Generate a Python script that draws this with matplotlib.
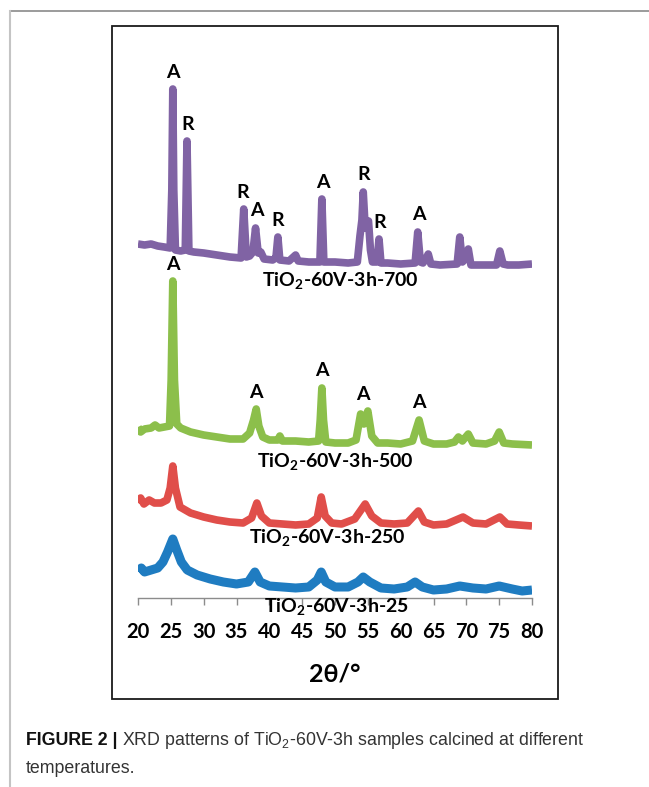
import numpy as np
import matplotlib
matplotlib.use('Agg')
import matplotlib.pyplot as plt
from matplotlib.lines import Line2D
from matplotlib.patches import Rectangle

plt.rcParams['font.family'] = ['Lato', 'DejaVu Sans']
plt.rcParams['mathtext.fontset'] = 'custom'
plt.rcParams['mathtext.rm'] = 'Lato:bold'
plt.rcParams['mathtext.bf'] = 'Lato:bold'
plt.rcParams['mathtext.sf'] = 'Liberation Sans'

W, H = 649, 787

# XRD patterns, 2-theta in degrees, intensity in a.u. (already stacked)
tt_700 = [20.0, 21.0, 22.0, 23.0, 24.0, 24.9, 25.15, 25.3, 25.45, 25.7, 26.5, 27.2, 27.46, 27.75,
          28.5, 30.0, 32.0, 34.0, 35.7, 36.1, 36.5, 37.0, 37.5, 37.9, 38.3, 38.7, 39.2, 40.5,
          41.0, 41.3, 41.6, 43.0, 44.0, 44.4, 46.0, 47.7, 48.0, 48.3, 50.0, 52.0, 53.4, 53.8,
          54.1, 54.3, 54.6, 55.1, 55.4, 55.7, 56.4, 56.7, 57.0, 58.0, 60.0, 62.2, 62.6, 63.0,
          63.4, 63.9, 64.2, 64.6, 66.0, 68.6, 69.0, 69.4, 70.0, 70.3, 70.7, 72.0, 74.6, 75.1,
          75.6, 76.3, 78.0, 80.0]
i_700 = [354, 353, 354, 352, 351, 350, 408, 509, 408, 348, 347, 348, 457, 347,
         346, 345, 343, 341, 340, 389, 341, 342, 346, 370, 345, 346, 339, 338,
         340, 361, 338, 337, 343, 337, 336, 336, 399, 336, 336, 335, 336, 362,
         378, 406, 370, 377, 348, 336, 336, 359, 335, 335, 334, 335, 366, 336,
         335, 340, 344, 334, 333, 334, 361, 336, 340, 349, 333, 333, 333, 347,
         334, 333, 333, 334]

tt_500 = [20.0, 20.4, 21.0, 22.0, 22.6, 23.2, 24.0, 24.8, 25.05, 25.3, 25.55, 25.9, 26.5, 28.0,
          30.0, 32.0, 34.0, 36.0, 37.0, 37.6, 38.0, 38.4, 39.0, 40.0, 41.3, 41.6, 42.0, 44.0,
          46.0, 47.5, 47.75, 48.0, 48.25, 48.6, 50.0, 52.0, 53.2, 53.9, 54.4, 55.0, 55.6, 56.5,
          58.0, 60.0, 61.8, 62.8, 63.6, 65.0, 67.0, 68.2, 68.8, 69.4, 70.3, 71.0, 73.0, 74.3,
          75.0, 75.7, 77.0, 80.0]
i_500 = [171, 166, 169, 170, 173, 170, 171, 172, 218, 317, 218, 174, 170, 166,
         163, 161, 159, 159, 165, 178, 189, 172, 161, 158, 158, 162, 157, 157,
         156, 157, 178, 210, 178, 156, 155, 155, 158, 184, 174, 187, 162, 155,
         155, 154, 157, 178, 157, 154, 154, 156, 161, 157, 164, 155, 154, 157,
         166, 155, 154, 153]

tt_250 = [20.0, 20.4, 20.9, 21.7, 22.5, 23.5, 24.4, 24.9, 25.3, 25.7, 26.4, 28.0, 30.0, 32.0,
          34.0, 36.0, 37.3, 38.1, 38.8, 40.0, 42.0, 44.0, 46.0, 47.3, 47.9, 48.5, 49.5, 51.0,
          53.0, 54.6, 55.6, 57.0, 59.0, 61.0, 62.7, 63.6, 65.0, 67.0, 69.5, 71.0, 73.0, 75.1,
          76.2, 78.0, 80.0]
i_250 = [95, 100, 94, 98, 95, 95, 98, 110, 132, 110, 91, 85, 81, 78,
         76, 75, 80, 95, 82, 75, 74, 73, 74, 80, 101, 82, 75, 74,
         79, 94, 82, 75, 74, 75, 87, 76, 73, 74, 81, 75, 74, 81,
         74, 73, 72]

tt_25 = [20.0, 20.5, 21.0, 22.0, 23.0, 23.8, 24.5, 25.3, 25.9, 26.6, 27.5, 29.0, 31.0, 33.0,
         35.0, 36.8, 37.8, 38.6, 40.0, 42.0, 44.0, 46.0, 47.3, 47.9, 48.6, 50.0, 52.0, 53.5,
         54.3, 55.3, 57.0, 59.0, 61.0, 62.2, 63.3, 65.0, 67.0, 69.0, 71.0, 73.0, 75.0, 77.0,
         78.5, 80.0]
i_25 = [27, 30, 26, 28, 30, 36, 46, 59, 48, 36, 28, 23, 19, 16,
        14, 16, 26, 16, 12, 11, 10, 11, 18, 26, 16, 11, 11, 16,
        21, 16, 10, 9, 11, 16, 11, 8, 9, 12, 10, 9, 12, 9,
        7, 8]

# phase assignments: A = anatase, R = rutile
peaks_700 = [(25.3, 'A'), (27.6, 'R'), (36.0, 'R'), (38.1, 'A'), (41.3, 'R'),
             (48.1, 'A'), (54.3, 'R'), (56.85, 'R'), (62.75, 'A')]
peaks_500 = [(25.3, 'A'), (38.0, 'A'), (48.0, 'A'), (54.3, 'A'), (62.75, 'A')]

names = ['TiO$_{\\mathrm{2}}$-60V-3h-25', 'TiO$_{\\mathrm{2}}$-60V-3h-250',
         'TiO$_{\\mathrm{2}}$-60V-3h-500', 'TiO$_{\\mathrm{2}}$-60V-3h-700']
colors = ['#1f7cc1', '#e04e4a', '#8cbf4b', '#8063a4']
xticks = [20, 25, 30, 35, 40, 45, 50, 55, 60, 65, 70, 75, 80]

fig = plt.figure(figsize=(W / 100, H / 100), dpi=100)

# outer page frame and inner chart box
fig.add_artist(Line2D([10 / W, 1], [1 - 10.5 / H, 1 - 10.5 / H], transform=fig.transFigure,
                      color='#8a8a8a', lw=1.2))
fig.add_artist(Line2D([10 / W, 10 / W], [0, 1 - 10.5 / H], transform=fig.transFigure,
                      color='#c4c4c4', lw=1.5))
fig.add_artist(Rectangle((112 / W, 1 - 699 / H), (558 - 112) / W, (699 - 26) / H,
                         transform=fig.transFigure, fill=False, ec='#1a1a1a', lw=1.3))

ax = fig.add_axes([138 / W, 1 - 598 / H, 394 / W, 572 / H])
ax.set_xlim(20, 80)
ax.set_ylim(0, 572)

patterns = [(tt_25, i_25), (tt_250, i_250), (tt_500, i_500), (tt_700, i_700)]
widths = [6.5, 5.5, 5.5, 5.5]
for (tt, inten), c, lw in zip(patterns, colors, widths):
    ax.plot(tt, inten, color=c, lw=lw, solid_joinstyle='round', solid_capstyle='butt')

# phase letters above the reflections
for (tt, inten), peaks in [((tt_700, i_700), peaks_700), ((tt_500, i_500), peaks_500)]:
    tt = np.array(tt)
    inten = np.array(inten)
    for pos, ph in peaks:
        top = inten[np.abs(tt - pos) <= 0.8].max()
        ax.text(pos, top + 17, ph, ha='center', va='center', fontsize=14, fontweight='bold')

# sample names
name_pos = [(50.15, -15), (48.9, 54), (50.0, 130), (50.75, 311)]
for (x, y), nm in zip(name_pos, names):
    ax.text(x, y, nm, ha='center', va='baseline', fontsize=14, fontweight='bold', clip_on=False)

for s in ['left', 'right', 'top']:
    ax.spines[s].set_visible(False)
ax.spines['bottom'].set_color('#8c8c8c')
ax.spines['bottom'].set_linewidth(1.0)
ax.set_yticks([])
ax.set_xticks(xticks)
ax.tick_params(axis='x', direction='out', length=5, width=1, color='#8c8c8c', pad=12,
               labelsize=14.5)
for lab in ax.get_xticklabels():
    lab.set_fontweight('bold')
ax.set_xlabel('2θ/°', fontsize=18, fontweight='bold', labelpad=15)
ax.patch.set_visible(False)

# caption
renderer = fig.canvas.get_renderer()
t = fig.text(26 / W, 1 - 745 / H, 'FIGURE 2 |', fontsize=12.8, fontweight='bold',
             family='Liberation Sans', color='#111111')
bb = t.get_window_extent(renderer)
fig.text((bb.x1 + 4) / W, 1 - 745 / H,
         'XRD patterns of TiO$_\\mathsf{2}$-60V-3h samples calcined at different',
         fontsize=12.8, family='Liberation Sans', color='#333333')
fig.text(26 / W, 1 - 773 / H, 'temperatures.', fontsize=12.8, family='Liberation Sans',
         color='#333333')

fig.savefig('out.png', dpi=100)
